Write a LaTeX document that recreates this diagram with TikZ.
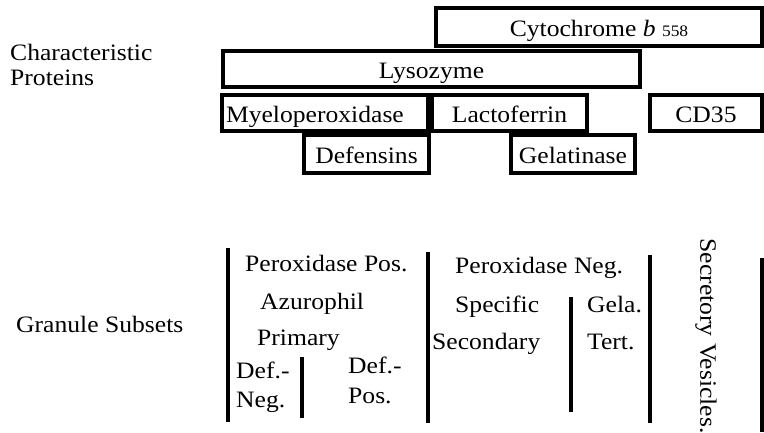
\documentclass[tikz,border=0pt]{standalone}
\usepackage{fontspec}
\setmainfont{Liberation Serif}[FakeStretch=1.09]
\begin{document}
\begin{tikzpicture}[x=1pt,y=-1pt,
  pbox/.style={draw=black, line width=3.2pt, rectangle, inner xsep=2pt, inner ysep=0pt,
    text height=20pt, text depth=2pt, minimum height=36pt},
  lbl/.style={anchor=base west, inner sep=0pt},
  vline/.style={line width=3.6pt, line cap=butt}]
\fontsize{23.5}{27}\selectfont
\useasboundingbox (0,0) rectangle (764,432);
% left labels
\node[lbl] (ch1) at (10,60) {Characteristic};
\node[lbl] (ch2) at (10,85) {Proteins};
\node[lbl] (gs) at (16,332) {Granule Subsets};
% protein boxes
\node[pbox, minimum width=326pt, minimum height=38pt] (cyto) at (599,27)
  {Cytochrome \textit{b} {\fontsize{16}{16}\selectfont 558}};
\node[pbox, minimum width=417pt] (lys) at (431.5,69) {Lysozyme};
\node[pbox, minimum width=206pt, text width=198pt, align=left, inner xsep=4pt] (mpo) at (325,113) {Myeloperoxidase};
\node[pbox, minimum width=155pt] (lf) at (509.5,113) {Lactoferrin};
\node[pbox, minimum width=112pt] (cd) at (706,113) {CD35};
\node[pbox, minimum width=125pt, minimum height=38pt] (def) at (366.5,154) {Defensins};
\node[pbox, minimum width=124pt, minimum height=38pt] (gel) at (573,154) {Gelatinase};
% granule subsets
\draw[vline] (228,248) -- (228,422);
\draw[vline] (302,357) -- (302,418);
\draw[vline] (428,252) -- (428,423);
\draw[vline] (571,297) -- (571,412);
\draw[vline] (650,255) -- (650,423);
\draw[vline] (762,258) -- (762,432);
\node[lbl] (ppos) at (245,271) {Peroxidase Pos.};
\node[lbl] (azu) at (260,309) {Azurophil};
\node[lbl] (prim) at (257,345) {Primary};
\node[lbl] (dn1) at (236,378) {Def.-};
\node[lbl] (dn2) at (236,407) {Neg.};
\node[lbl] (dp1) at (348,373) {Def.-};
\node[lbl] (dp2) at (348,403) {Pos.};
\node[lbl] (pneg) at (455,273) {Peroxidase Neg.};
\node[lbl] (spec) at (455,312) {Specific};
\node[lbl] (sec) at (432,349) {Secondary};
\node[lbl] (gela) at (587,312) {Gela.};
\node[lbl] (tert) at (587,349) {Tert.};
\node[rotate=-90, inner sep=0pt] (sv) at (706,336) {Secretory Vesicles.};
\end{tikzpicture}
\end{document}
